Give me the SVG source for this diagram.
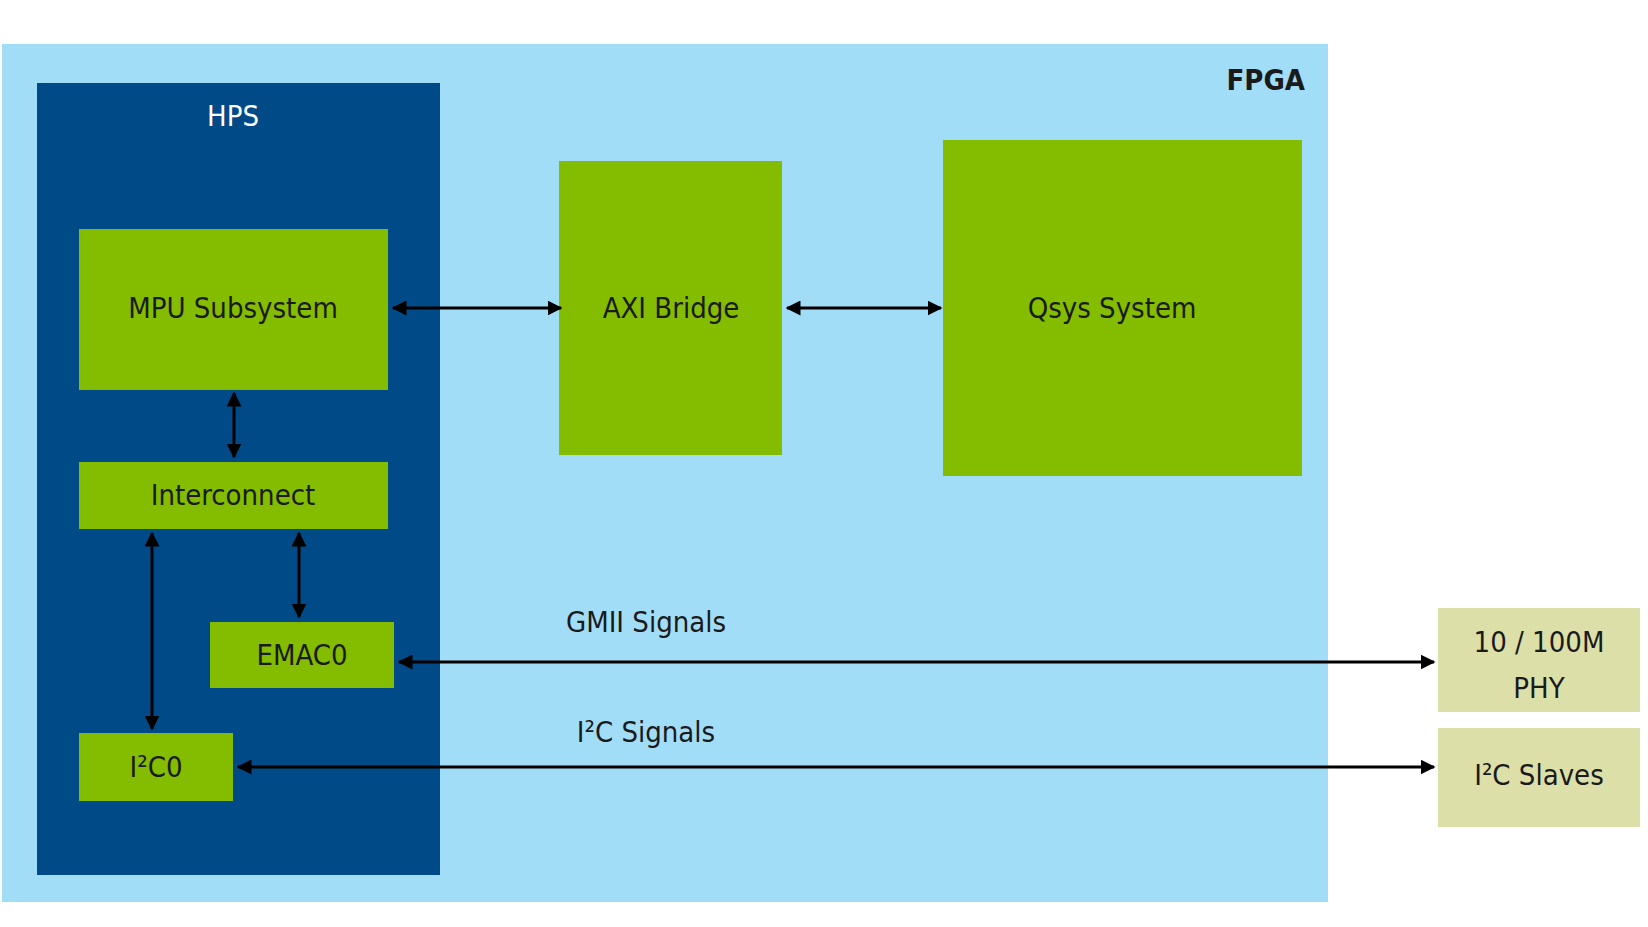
<svg xmlns="http://www.w3.org/2000/svg" width="1648" height="927" viewBox="0 0 1648 927">
<defs>
<marker id="ah" viewBox="0 0 10 10" refX="9" refY="5" markerWidth="5" markerHeight="5" orient="auto-start-reverse" markerUnits="strokeWidth"><path d="M0,0 L10,5 L0,10 z" fill="#000"/></marker>
<style>
text{font-family:"DejaVu Sans Condensed","Liberation Sans Narrow","Liberation Sans",sans-serif;font-size:29px;text-anchor:middle;fill:#1a1a1a}
.g{fill:#84BD00}.k{fill:#DCDFA8}
.c{stroke:#000;stroke-width:3;fill:none;marker-start:url(#ah);marker-end:url(#ah)}
</style>
</defs>
<rect width="1648" height="927" fill="#fff"/>
<g id="fpga"><rect x="2" y="44" width="1326" height="858" fill="#A2DDF7"/><text x="1305" y="90" text-anchor="end" style="text-anchor:end;font-weight:bold">FPGA</text></g>
<g id="hps"><rect x="37" y="83" width="403" height="792" fill="#004A87"/><text x="233" y="126" style="fill:#fff">HPS</text></g>
<g id="mpu"><rect class="g" x="79" y="229" width="309" height="161"/><text x="233" y="318">MPU Subsystem</text></g>
<g id="interconnect"><rect class="g" x="79" y="462" width="309" height="67"/><text x="233" y="505">Interconnect</text></g>
<g id="emac0"><rect class="g" x="210" y="622" width="184" height="66"/><text x="302" y="665">EMAC0</text></g>
<g id="i2c0"><rect class="g" x="79" y="733" width="154" height="68"/><text x="156" y="777">I²C0</text></g>
<g id="axi"><rect class="g" x="559" y="161" width="223" height="294"/><text x="671" y="318">AXI Bridge</text></g>
<g id="qsys"><rect class="g" x="943" y="140" width="359" height="336"/><text x="1112" y="318">Qsys System</text></g>
<g id="phy"><rect class="k" x="1438" y="608" width="202" height="104"/><text x="1539" y="652">10 / 100M</text><text x="1539" y="698">PHY</text></g>
<g id="slaves"><rect class="k" x="1438" y="728" width="202" height="99"/><text x="1539" y="785">I²C Slaves</text></g>
<g id="connectors">
<line class="c" x1="393" y1="308" x2="561" y2="308"/>
<line class="c" x1="787" y1="308" x2="941" y2="308"/>
<line class="c" x1="234" y1="393" x2="234" y2="457"/>
<line class="c" x1="299" y1="533" x2="299" y2="617"/>
<line class="c" x1="152" y1="533" x2="152" y2="729"/>
<line class="c" x1="399" y1="662" x2="1434" y2="662"/>
<line class="c" x1="238" y1="767" x2="1434" y2="767"/>
<text x="646" y="632">GMII Signals</text>
<text x="646" y="742">I²C Signals</text>
</g>
</svg>
